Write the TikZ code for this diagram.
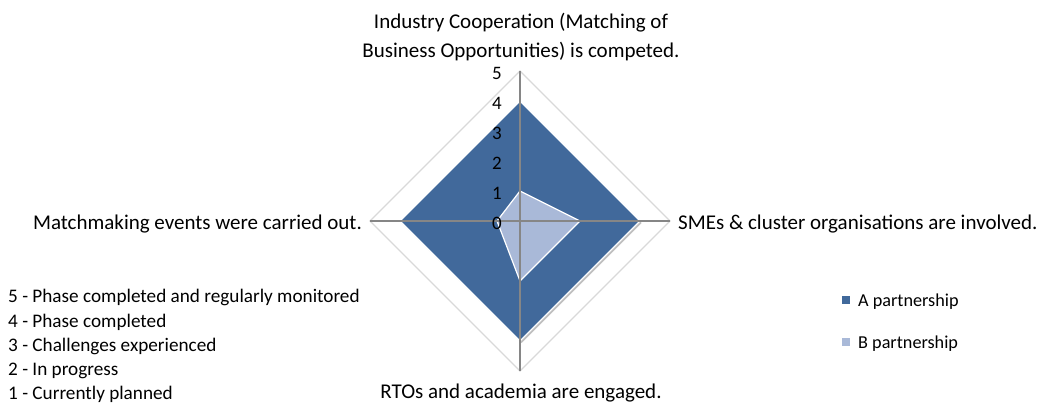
\documentclass[tikz,border=0pt]{standalone}
\usepackage{fontspec}
\setmainfont{Carlito}
\definecolor{serA}{HTML}{41699B}
\definecolor{serB}{HTML}{A9B9D8}
\definecolor{gridc}{HTML}{D9D9D9}
\definecolor{axisc}{HTML}{868686}
\begin{document}
\begin{tikzpicture}[x=1pt,y=-1pt,
  lbl/.style={font=\fontsize{21}{28}\selectfont, inner sep=0pt, text=black},
  tick/.style={font=\fontsize{19}{20}\selectfont, inner sep=0pt, anchor=base east},
  leg/.style={font=\fontsize{19.2}{24}\selectfont, inner sep=0pt, anchor=base west},
  sleg/.style={font=\fontsize{18.2}{24}\selectfont, inner sep=0pt, anchor=base west},
  gridline/.style={draw=gridc, line width=1.3pt},
  axisline/.style={draw=axisc, line width=1.5pt},
  seriesA/.style={fill=serA, draw=white, line width=1.2pt},
  seriesB/.style={fill=serB, draw=white, line width=1.2pt},
  mark box/.style={minimum size=8pt, inner sep=0pt}]
\useasboundingbox (0,0) rectangle (1046,404);
\coordinate (c) at (520,221);
% outer grid (value 5)
\coordinate (g5t) at (520,71);
\coordinate (g5r) at (670,221);
\coordinate (g5b) at (520,371);
\coordinate (g5l) at (370,221);
\draw[gridline] (g5t) -- (g5r) -- (g5b) -- (g5l) -- cycle;
% series A (4,4,4,4)
\coordinate (at) at (520,101);
\coordinate (ar) at (640,221);
\coordinate (ab) at (520,341);
\coordinate (al) at (400,221);
\fill[black!25] ([shift={(1.5,2)}]at) -- ([shift={(1.5,2)}]ar) -- ([shift={(1.5,2)}]ab) -- ([shift={(1.5,2)}]al) -- cycle;
\draw[seriesA] (at) -- (ar) -- (ab) -- (al) -- cycle;
% series B
\coordinate (bt) at (520,191);
\coordinate (br) at (580,221);
\coordinate (bb) at (520,281);
\coordinate (bl) at (497,221);
\draw[seriesB] (bt) -- (br) -- (bb) -- (bl) -- cycle;
% axes
\draw[axisline] (g5t) -- (g5b);
\draw[axisline] (g5l) -- (g5r);
% tick labels
\node[tick] (t5) at (502,79) {5};
\node[tick] (t4) at (502,109) {4};
\node[tick] (t3) at (502,139) {3};
\node[tick] (t2) at (502,169) {2};
\node[tick] (t1) at (502,199) {1};
\node[tick] (t0) at (502,229) {0};
% axis labels
\node[lbl, anchor=base] (top1) at (521,29) {Industry Cooperation (Matching of};
\node[lbl, anchor=base] (top2) at (521,57) {Business Opportunities) is competed.};
\node[lbl, anchor=base west] (right) at (678,229) {SMEs \& cluster organisations are involved.};
\node[lbl, anchor=base east] (left) at (362,229) {Matchmaking events were carried out.};
\node[lbl, anchor=base] (bottom) at (521,398) {RTOs and academia are engaged.};
% scale legend
\node[leg] (s5) at (8,302) {5 - Phase completed and regularly monitored};
\node[leg] (s4) at (8,327) {4 - Phase completed};
\node[leg] (s3) at (8,351) {3 - Challenges experienced};
\node[leg] (s2) at (8,375) {2 - In progress};
\node[leg] (s1) at (8,399) {1 - Currently planned};
% series legend
\node[mark box, fill=serA] (mA) at (846,300) {};
\node[sleg] (lA) at (858,306) {A partnership};
\node[mark box, fill=serB] (mB) at (846,342) {};
\node[sleg] (lB) at (858,348) {B partnership};
\end{tikzpicture}
\end{document}
